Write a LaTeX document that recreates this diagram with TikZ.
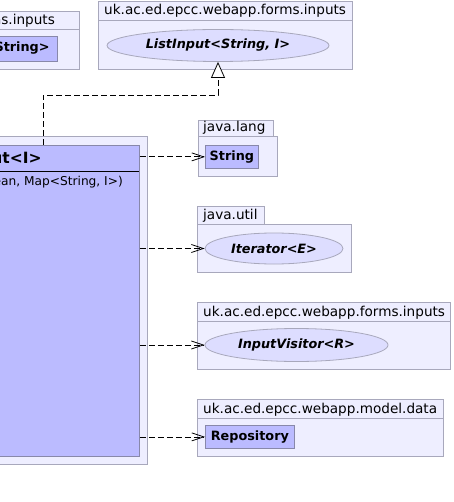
\documentclass[tikz,border=0pt]{standalone}
\usepackage{fontspec}
\setmainfont{DejaVu Sans}
\usetikzlibrary{arrows.meta,shapes.geometric}
\definecolor{pkgfill}{HTML}{EEEEFF}
\definecolor{pkgline}{HTML}{A8A8BC}
\definecolor{clsfill}{HTML}{BBBBFF}
\definecolor{clsline}{HTML}{8888AA}
\definecolor{ellfill}{HTML}{DDDDFF}
\begin{document}
\begin{tikzpicture}[x=1pt,y=-1pt,
  pkg/.style={draw=pkgline,fill=pkgfill,line width=0.8pt},
  pkgsep/.style={draw=pkgline,line width=0.8pt},
  pkgtext/.style={inner sep=0pt,font=\fontsize{13.6}{15}\selectfont},
  cls/.style={draw=clsline,fill=clsfill,line width=0.8pt,inner sep=0pt,font=\fontsize{12.8}{15}\selectfont\bfseries},
  ell/.style={ellipse,draw=pkgline,fill=ellfill,line width=0.8pt,inner sep=0pt,font=\fontsize{12.8}{15}\selectfont\bfseries\itshape},
  dep/.style={draw=black,line width=0.8pt,dash pattern=on 6pt off 3pt,-{Straight Barb[length=12pt,width=8pt]}},
  realize/.style={draw=black,line width=0.8pt,dash pattern=on 6pt off 3pt,-{Triangle[open,length=16pt,width=14pt,fill=white]}}
]
\useasboundingbox (0,0) rectangle (453,502);
\clip (0,0) rectangle (453,502);
\fill[white] (0,0) rectangle (453,502);

% top-left package (cut off)
\draw[pkg] (-250,11) rectangle (79,69);
\draw[pkgsep] (-250,29) -- (79,29);
\node[pkgtext,anchor=base east] (tlpkg) at (55,25) {uk.ac.ed.epcc.webapp.forms.inputs};
\node[cls,anchor=north east,minimum width=160pt,minimum height=25pt] (tlcls) at (58,36) {};
\node[cls,draw=none,fill=none,anchor=east] (tltext) at (50,48.5) {ParseInput<String>};

% top-right package
\draw[pkg] (98,1) rectangle (352,69);
\draw[pkgsep] (98,20) -- (352,20);
\node[pkgtext,anchor=base west] (trpkg) at (104,15) {uk.ac.ed.epcc.webapp.forms.inputs};
\node[ell,minimum width=222pt,minimum height=32pt] (listinput) at (218,45.5) {ListInput<String, I>};

% main package
\draw[pkg] (-20,136) rectangle (147,464);
\node[cls,anchor=north west,minimum width=149pt,minimum height=311pt] (main) at (-10,145) {};
\draw[line width=1.6pt] (-10,171.5) -- (139,171.5);
\node[cls,draw=none,fill=none,anchor=base east,font=\fontsize{15.5}{18}\selectfont\bfseries] (maintitle) at (42,164) {ListInput<I>};
\node[inner sep=0pt,font=\fontsize{12.2}{14}\selectfont,anchor=base east] (mainattr) at (123,186) {(boolean, Map<String, I>)};

% java.lang
\draw[pkg] (198,120) rectangle (273,136);
\draw[pkg] (198,136) rectangle (277,176);
\node[pkgtext,anchor=base west] (langpkg) at (203,132) {java.lang};
\node[cls,anchor=north west,minimum width=53pt,minimum height=23pt] (str) at (205,145) {String};

% java.util
\draw[pkg] (197,206) rectangle (264,224);
\draw[pkg] (197,224) rectangle (351,272);
\node[pkgtext,anchor=base west] (utilpkg) at (203,219) {java.util};
\node[ell,minimum width=138pt,minimum height=31pt] (iter) at (274,248.5) {Iterator<E>};

% InputVisitor package
\draw[pkg] (197,302) rectangle (450,369);
\draw[pkgsep] (197,321) -- (450,321);
\node[pkgtext,anchor=base west] (vispkg) at (203,316) {uk.ac.ed.epcc.webapp.forms.inputs};
\node[ell,minimum width=183pt,minimum height=33pt] (vis) at (296.5,345) {InputVisitor<R>};

% Repository package
\draw[pkg] (197,399) rectangle (443,456);
\draw[pkgsep] (197,418) -- (443,418);
\node[pkgtext,anchor=base west] (repopkg) at (203,413) {uk.ac.ed.epcc.webapp.model.data};
\node[cls,anchor=north west,minimum width=89pt,minimum height=23pt] (repo) at (205,425) {Repository};

% connectors
\coordinate (gstart) at ([xshift=53pt]main.north west);
\coordinate (gbend) at (listinput.south |- 0,95);
\draw[realize] (gstart) |- (gbend) -- (listinput.south);
\draw[dep] (main.east |- str.west) -- (str.west);
\draw[dep] (main.east |- iter.west) -- (iter.west);
\draw[dep] (main.east |- vis.west) -- (vis.west);
\draw[dep] (main.east |- repo.west) -- (repo.west);
\end{tikzpicture}
\end{document}
